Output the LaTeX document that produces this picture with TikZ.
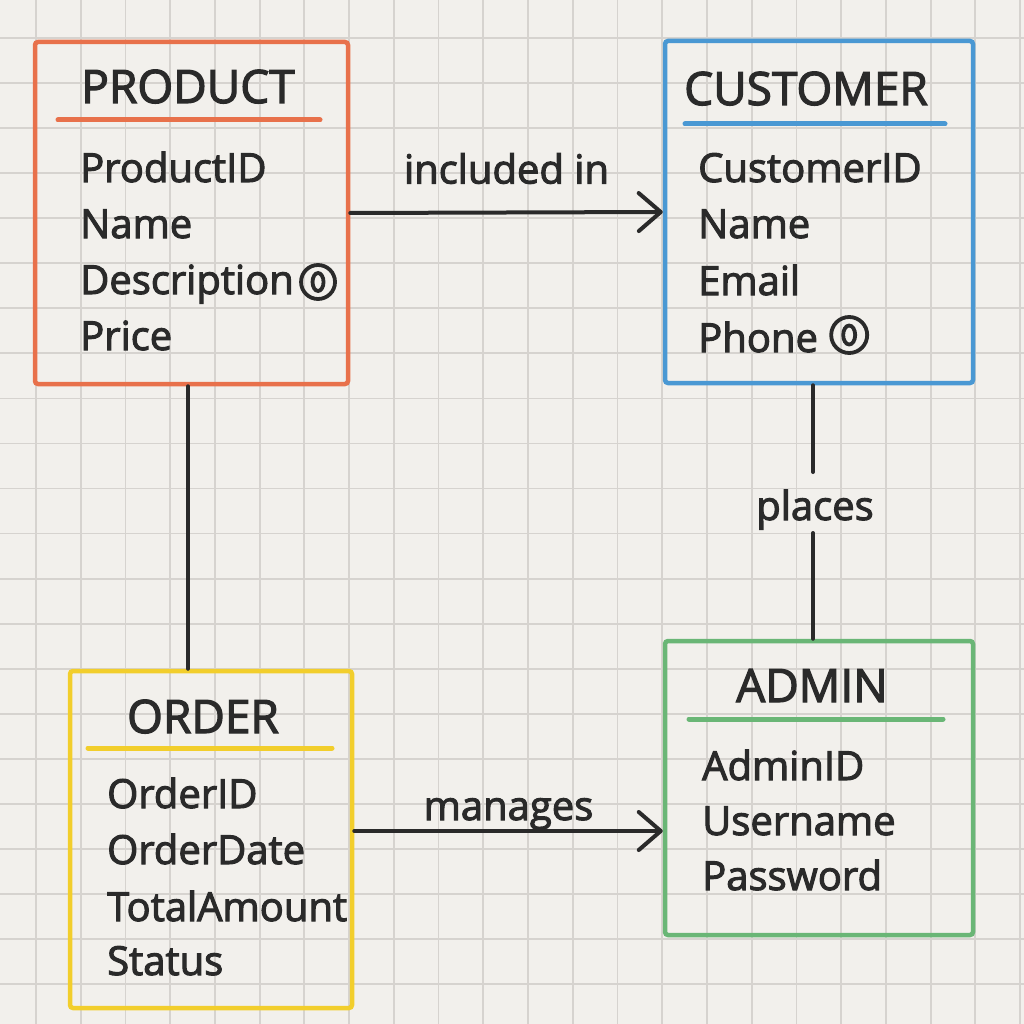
\documentclass[tikz,border=0pt]{standalone}
\usepackage{fontspec}
\setmainfont{Open Sans}[FakeBold=2.6]
\usetikzlibrary{arrows.meta}
\definecolor{paper}{HTML}{F2F0EC}
\definecolor{gridc}{HTML}{D6D3CF}
\definecolor{ink}{HTML}{2A2A2A}
\definecolor{eorange}{HTML}{E8714B}
\definecolor{eblue}{HTML}{4A98D3}
\definecolor{eyellow}{HTML}{F2CE2C}
\definecolor{egreen}{HTML}{6AB676}
\tikzset{
  gridline/.style={draw=gridc, line width=1.8pt},
  entity/.style={draw, line width=4.5pt, rounded corners=3pt, rectangle, inner sep=0pt},
  titletext/.style={anchor=base, inner sep=0pt, text=ink, font=\fontsize{46}{50}\selectfont},
  attrtext/.style={anchor=base west, inner sep=0pt, text=ink, font=\fontsize{40}{44}\selectfont},
  lbltext/.style={inner sep=0pt, text=ink, font=\fontsize{40}{44}\selectfont},
  uline/.style={line width=5pt, line cap=round},
  conn/.style={draw=ink, line width=4pt, line cap=round},
  optmark/.style={draw=ink, line width=3.8pt},
  arr/.style={-{Straight Barb[length=22pt,width=38pt,line cap=round,line join=round]}}
}
\begin{document}
\begin{tikzpicture}[x=1pt,y=-1pt]
\useasboundingbox (0,0) rectangle (1024,1024);
\fill[paper] (0,0) rectangle (1024,1024);
\foreach \k in {-1,...,22} {
  \draw[gridline] ({36+44.73*\k},0) -- ({36+44.73*\k},1024);
  \draw[gridline] (0,{38+45.05*\k}) -- (1024,{38+45.05*\k});
}

% entities
\node[entity, draw=eorange, minimum width=313pt, minimum height=342pt] (product) at (191.5,213) {};
\node[entity, draw=eblue, minimum width=308pt, minimum height=342pt] (customer) at (819,212) {};
\node[entity, draw=eyellow, minimum width=282pt, minimum height=337pt] (order) at (211,839.5) {};
\node[entity, draw=egreen, minimum width=308pt, minimum height=294pt] (admin) at (819,788) {};

% PRODUCT
\node[titletext] (ptitle) at (188,103) {PRODUCT};
\draw[uline, eorange] (58,120) -- (320,120);
\node[attrtext] (p1) at (80,182) {ProductID};
\node[attrtext] (p2) at (80,238) {Name};
\node[attrtext] (p3) at (80,294) {Description};
\node[attrtext] (p4) at (80,350) {Price};
\draw[optmark] ([xshift=24pt,yshift=12pt]p3.base east) circle[radius=17pt];
\draw[optmark] ([xshift=24pt,yshift=12pt]p3.base east) ellipse[x radius=5.5pt, y radius=9pt];

% CUSTOMER
\node[titletext] (ctitle) at (806,105) {CUSTOMER};
\draw[uline, eblue] (685,124) -- (945,124);
\node[attrtext] (c1) at (698,182) {CustomerID};
\node[attrtext] (c2) at (698,238) {Name};
\node[attrtext] (c3) at (698,295) {Email};
\node[attrtext] (c4) at (698,352) {Phone};
\draw[optmark] ([xshift=31pt,yshift=17pt]c4.base east) circle[radius=18pt];
\draw[optmark] ([xshift=31pt,yshift=17pt]c4.base east) ellipse[x radius=6pt, y radius=9.5pt];

% ORDER
\node[titletext] (otitle) at (203,733) {ORDER};
\draw[uline, eyellow] (88,748) -- (332,748);
\node[attrtext] (o1) at (107,808) {OrderID};
\node[attrtext] (o2) at (107,864) {OrderDate};
\node[attrtext] (o3) at (107,921) {TotalAmount};
\node[attrtext] (o4) at (107,975) {Status};

% ADMIN
\node[titletext] (atitle) at (812,702) {ADMIN};
\draw[uline, egreen] (689,719) -- (943,719);
\node[attrtext] (a1) at (702,780) {AdminID};
\node[attrtext] (a2) at (702,835) {Username};
\node[attrtext] (a3) at (702,890) {Password};

% connectors
\coordinate (vA) at (188,0);
\coordinate (vB) at (813,0);
\coordinate (hM) at (0,831);
\coordinate (pa) at (813,472);
\coordinate (pb) at (813,533);

\draw[conn] (product.south -| vA) -- (order.north -| vA);
\draw[conn, arr] (product.east) -- node[lbltext, anchor=base, yshift=29pt] (lin) {included in} (customer.west);
\draw[conn, arr] (order.east |- hM) -- node[lbltext, anchor=base, yshift=11pt] (lman) {manages} (admin.west |- hM);
\draw[conn] (customer.south -| vB) -- (pa);
\node[lbltext, anchor=base] (lpl) at (815,520) {places};
\draw[conn] (pb) -- (admin.north -| vB);
\end{tikzpicture}
\end{document}
